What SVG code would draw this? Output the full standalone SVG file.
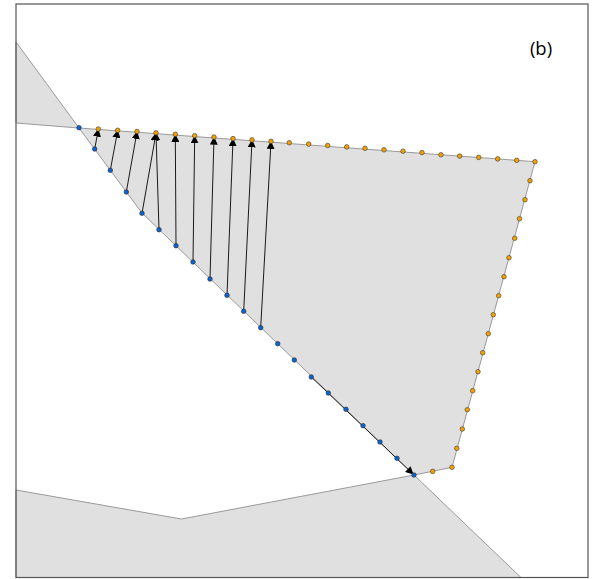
<svg xmlns="http://www.w3.org/2000/svg" width="593" height="579" viewBox="0 0 593 579">
<defs>
<style>
.reg{fill:#e0e0e0;stroke:#9a9a9a;stroke-width:1}
.arr{stroke:#1a1a1a;stroke-width:1;fill:none;marker-end:url(#ah)}
.o{fill:#f2a100;stroke:#3a3a3a;stroke-width:0.6}
.b{fill:#0a64d2;stroke:#2a2a2a;stroke-width:0.6}
</style>
<marker id="ah" viewBox="0 0 10 10" refX="9" refY="5" markerWidth="8" markerHeight="8" markerUnits="userSpaceOnUse" orient="auto" preserveAspectRatio="none">
<path d="M0,0 L10,5 L0,10 z" fill="#000"/>
</marker>
</defs>
<rect x="0" y="0" width="593" height="579" fill="#fff"/>
<g id="regions">
<polygon id="tl" class="reg" points="16,42 79,128 16,123"/>
<polygon id="bottom" class="reg" points="16,490 181.5,519 414,475 521,577.5 16,577.5"/>
<polygon id="main" class="reg" points="79,128 535,161.7 452,467.3 414,475 142,213"/>
</g>
<g id="connectors">
<line class="arr" x1="94.7" y1="149" x2="98.3" y2="129.5"/>
<line class="arr" x1="110.3" y1="170.3" x2="117.7" y2="130.5"/>
<line class="arr" x1="126.3" y1="192" x2="137" y2="131.8"/>
<line class="arr" x1="142" y1="213.3" x2="156" y2="133.2"/>
<line class="arr" x1="159" y1="229.7" x2="156" y2="133.2"/>
<line class="arr" x1="176" y1="245.7" x2="175.3" y2="134.8"/>
<line class="arr" x1="193" y1="262" x2="194.7" y2="136.2"/>
<line class="arr" x1="210" y1="279" x2="214" y2="137.5"/>
<line class="arr" x1="227" y1="295.3" x2="233" y2="139"/>
<line class="arr" x1="243.7" y1="311.3" x2="252" y2="140.2"/>
<line class="arr" x1="260.7" y1="327.7" x2="271" y2="141.8"/>
<line class="arr" x1="311.3" y1="377" x2="413" y2="474"/>
</g>
<g id="orange-points">
<circle class="o" cx="98.3" cy="129" r="2.3"/>
<circle class="o" cx="117.7" cy="130.3" r="2.3"/>
<circle class="o" cx="137" cy="131.5" r="2.3"/>
<circle class="o" cx="156" cy="132.8" r="2.3"/>
<circle class="o" cx="175.3" cy="134.3" r="2.3"/>
<circle class="o" cx="194.7" cy="135.7" r="2.3"/>
<circle class="o" cx="214" cy="137.1" r="2.3"/>
<circle class="o" cx="233" cy="138.6" r="2.3"/>
<circle class="o" cx="252" cy="139.9" r="2.3"/>
<circle class="o" cx="271" cy="141.3" r="2.3"/>
<circle class="o" cx="289.3" cy="142.7" r="2.3"/>
<circle class="o" cx="308.7" cy="144.1" r="2.3"/>
<circle class="o" cx="327.7" cy="145.5" r="2.3"/>
<circle class="o" cx="346.7" cy="146.9" r="2.3"/>
<circle class="o" cx="365" cy="148.3" r="2.3"/>
<circle class="o" cx="384" cy="149.8" r="2.3"/>
<circle class="o" cx="403" cy="151.2" r="2.3"/>
<circle class="o" cx="422" cy="152.6" r="2.3"/>
<circle class="o" cx="441" cy="154.8" r="2.3"/>
<circle class="o" cx="459.7" cy="156.1" r="2.3"/>
<circle class="o" cx="478.7" cy="157.4" r="2.3"/>
<circle class="o" cx="497.7" cy="158.9" r="2.3"/>
<circle class="o" cx="516.7" cy="160.3" r="2.3"/>
<circle class="o" cx="535" cy="161.7" r="2.3"/>
<circle class="o" cx="530" cy="180.7" r="2.3"/>
<circle class="o" cx="525" cy="199.7" r="2.3"/>
<circle class="o" cx="519.5" cy="218.7" r="2.3"/>
<circle class="o" cx="514.7" cy="238.3" r="2.3"/>
<circle class="o" cx="509" cy="257.7" r="2.3"/>
<circle class="o" cx="504" cy="276.7" r="2.3"/>
<circle class="o" cx="498.7" cy="295.7" r="2.3"/>
<circle class="o" cx="493.3" cy="314.7" r="2.3"/>
<circle class="o" cx="488.3" cy="333.7" r="2.3"/>
<circle class="o" cx="482.7" cy="352.7" r="2.3"/>
<circle class="o" cx="478" cy="371.7" r="2.3"/>
<circle class="o" cx="472.7" cy="390.7" r="2.3"/>
<circle class="o" cx="467.3" cy="409.7" r="2.3"/>
<circle class="o" cx="462.3" cy="429" r="2.3"/>
<circle class="o" cx="456.8" cy="448.3" r="2.3"/>
<circle class="o" cx="452" cy="467.3" r="2.3"/>
<circle class="o" cx="432.7" cy="471.4" r="2.3"/>
</g>
<g id="blue-points">
<circle class="b" cx="79" cy="127.7" r="2.3"/>
<circle class="b" cx="94.7" cy="149" r="2.3"/>
<circle class="b" cx="110.3" cy="170.3" r="2.3"/>
<circle class="b" cx="126.3" cy="192" r="2.3"/>
<circle class="b" cx="142" cy="213.3" r="2.3"/>
<circle class="b" cx="159" cy="229.7" r="2.3"/>
<circle class="b" cx="176" cy="245.7" r="2.3"/>
<circle class="b" cx="193" cy="262" r="2.3"/>
<circle class="b" cx="210" cy="279" r="2.3"/>
<circle class="b" cx="227" cy="295.3" r="2.3"/>
<circle class="b" cx="243.7" cy="311.3" r="2.3"/>
<circle class="b" cx="260.7" cy="327.7" r="2.3"/>
<circle class="b" cx="277.7" cy="343.7" r="2.3"/>
<circle class="b" cx="294.3" cy="360" r="2.3"/>
<circle class="b" cx="311.3" cy="377" r="2.3"/>
<circle class="b" cx="328.3" cy="393" r="2.3"/>
<circle class="b" cx="346" cy="409.3" r="2.3"/>
<circle class="b" cx="363" cy="425.7" r="2.3"/>
<circle class="b" cx="380" cy="442" r="2.3"/>
<circle class="b" cx="397" cy="458.3" r="2.3"/>
<circle class="b" cx="414" cy="475" r="2.3"/>
</g>
<rect id="frame" x="16" y="4" width="572" height="573.5" fill="none" stroke="#555" stroke-width="1.2"/>
<text id="label" x="541" y="55" font-family="'Open Sans', 'Liberation Sans', sans-serif" font-size="18.5" text-anchor="middle" fill="#000">(b)</text>
</svg>
